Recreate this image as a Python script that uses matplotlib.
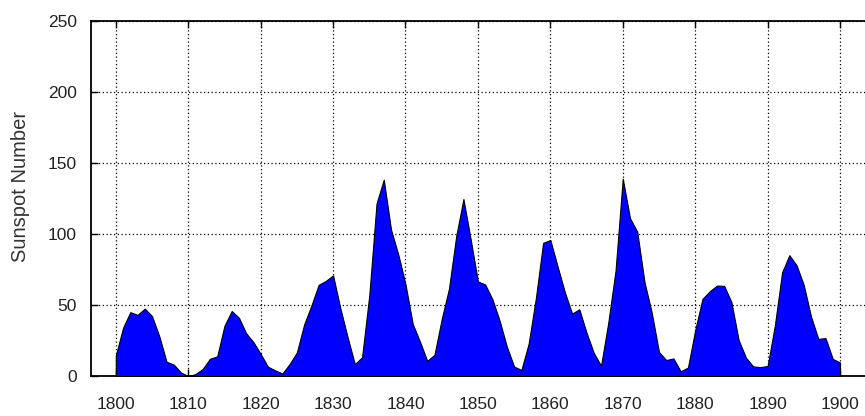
import numpy as np
import matplotlib.pyplot as plt

plt.rcParams['font.family'] = ['Liberation Sans', 'DejaVu Sans']

# yearly sunspot numbers 1800-1900
years = np.arange(1800, 1901)
sunspots = [14.5, 34.0, 45.0, 43.1, 47.5, 42.2, 28.1, 10.1, 8.1, 2.5,
            0.0, 1.4, 5.0, 12.2, 13.9, 35.4, 45.8, 41.1, 30.1, 23.9,
            15.6, 6.6, 4.0, 1.8, 8.5, 16.6, 36.3, 49.6, 64.2, 67.0,
            70.9, 47.8, 27.5, 8.5, 13.2, 56.9, 121.5, 138.3, 103.2, 85.7,
            64.6, 36.7, 24.2, 10.7, 15.0, 40.1, 61.5, 98.5, 124.7, 96.3,
            66.6, 64.5, 54.1, 39.0, 20.6, 6.7, 4.3, 22.7, 54.8, 93.8,
            95.8, 77.2, 59.1, 44.0, 47.0, 30.5, 16.3, 7.3, 37.6, 74.0,
            139.0, 111.2, 101.6, 66.2, 44.7, 17.0, 11.3, 12.4, 3.4, 6.0,
            32.3, 54.3, 59.7, 63.7, 63.5, 52.2, 25.4, 13.1, 6.8, 6.3,
            7.1, 35.6, 73.0, 85.1, 78.0, 64.0, 41.8, 26.2, 26.7, 12.1,
            9.5]
xticks = np.arange(1800, 1901, 10)
yticks = [0, 50, 100, 150, 200, 250]

fig = plt.figure(figsize=(8.65, 4.16), dpi=100)
ax = fig.add_axes([0.105, 0.096, 0.895, 0.8535])

ax.fill_between(years, sunspots, 0, facecolor=(0, 0, 1), edgecolor='black',
                linewidth=0.8, zorder=3)

ax.set_xlim(1796.55, 1903.45)
ax.set_ylim(0, 250)
ax.set_xticks(xticks)
ax.set_yticks(yticks)
ax.grid(True, color='black', linestyle=(0, (1, 2)), linewidth=0.9)
ax.set_axisbelow(True)

ax.tick_params(direction='in', length=5, width=1, labelsize=12.5,
               labelcolor='#222222', top=True, right=False)
ax.tick_params(axis='x', pad=15)
ax.tick_params(axis='y', pad=10)
for s in ['left', 'top', 'bottom']:
    ax.spines[s].set_linewidth(1.3)
ax.spines['right'].set_visible(False)

ax.set_ylabel('Sunspot Number', fontsize=14.5, color='#333333')
ax.yaxis.set_label_coords(-0.079, 0.535)

plt.savefig('out.png', dpi=100)
